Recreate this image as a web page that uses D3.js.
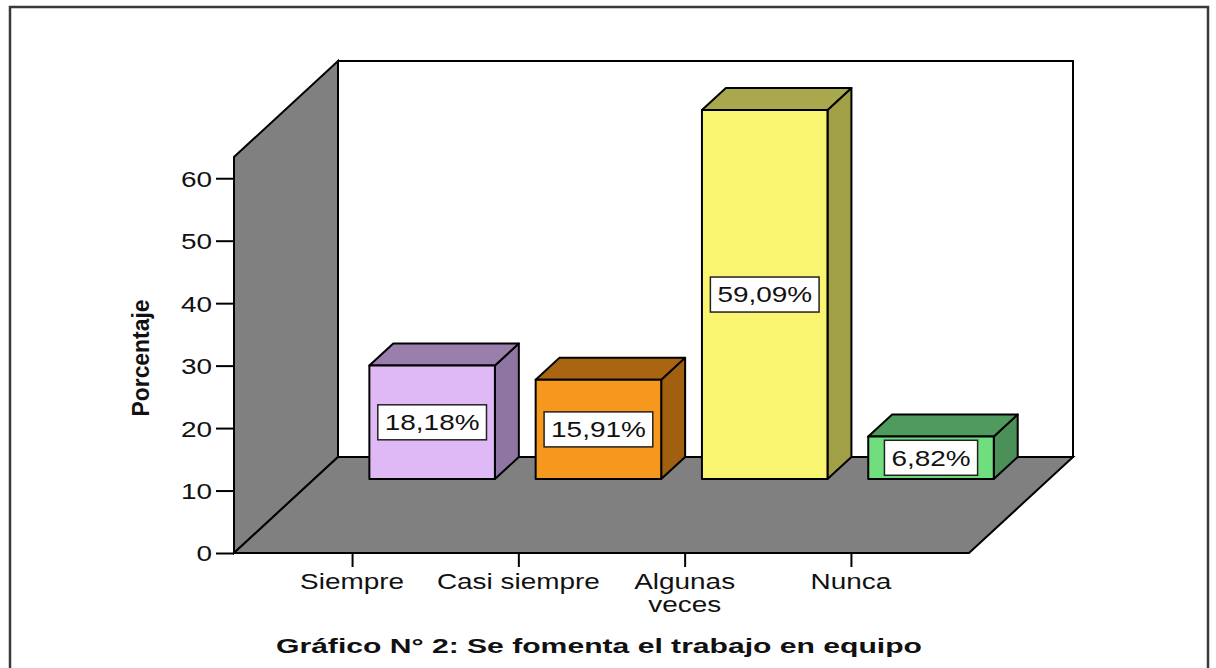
<!DOCTYPE html>
<html>
<head>
<meta charset="utf-8">
<script src="https://cdn.jsdelivr.net/npm/d3@7"></script>
<style>
  body { margin: 0; background: #fff; }
  svg { display: block; }
  text { font-family: "Liberation Sans", Arial, sans-serif; fill: #111; }
</style>
</head>
<body>
<svg id="chart" width="1216" height="668"></svg>
<script>
// data
var categories = ["Siempre", "Casi siempre", "Algunas veces", "Nunca"];
var categoryLines = [["Siempre"], ["Casi siempre"], ["Algunas", "veces"], ["Nunca"]];
var percentages = [18.18, 15.91, 59.09, 6.82];
var yTicks = [0, 10, 20, 30, 40, 50, 60];
var frontColors = ["#dfb9f5", "#f7981e", "#faf570", "#70dd7f"];
var topColors = ["#9a7fad", "#a96512", "#aaa84c", "#4f9a5d"];
var sideColors = ["#8f75a1", "#a15f10", "#a2a046", "#4a9058"];
var titleText = "Gráfico N° 2: Se fomenta el trabajo en equipo";
var yLabel = "Porcentaje";

var svg = d3.select("#chart");
var stretch = 1.27;   // the original's text is drawn wide

// outer frame
svg.append("rect").attr("x", 10).attr("y", 7).attr("width", 1198).attr("height", 720)
  .attr("fill", "none").attr("stroke", "#3a3a3a").attr("stroke-width", 2.5);

// front plane of the 3D box
var x0 = 234, x1 = 969, base = 553;
var depthX = 104, depthY = 96;     // full depth of the floor
var barDepth0 = 0.77, barDepth1 = 1.0;

var x = d3.scalePoint().domain(categories).range([x0, x1]).padding(0.71);
var barW = x.step() * 0.755;
var h = d3.scaleLinear().domain([0, 63.4]).range([0, 396]);
var yAxisScale = d3.scaleLinear().domain([0, 63.4]).range([base, base - 396]);

function proj(px, v, d) {
  return [px + d * depthX, base - h(v) - d * depthY];
}
function poly(pts) {
  return "M" + pts.map(function(p) { return p.join(","); }).join("L") + "Z";
}

var vmax = h.domain()[1];

// back wall
svg.append("path")
  .attr("d", poly([proj(x0, 0, 1), proj(x1, 0, 1), proj(x1, vmax, 1), proj(x0, vmax, 1)]))
  .attr("fill", "#fff").attr("stroke", "#000").attr("stroke-width", 2);

// left wall
svg.append("path")
  .attr("d", poly([proj(x0, 0, 0), proj(x0, 0, 1), proj(x0, vmax, 1), proj(x0, vmax, 0)]))
  .attr("fill", "#808080").attr("stroke", "#000").attr("stroke-width", 2);

// floor
svg.append("path")
  .attr("d", poly([proj(x0, 0, 0), proj(x1, 0, 0), proj(x1, 0, 1), proj(x0, 0, 1)]))
  .attr("fill", "#808080").attr("stroke", "#000").attr("stroke-width", 2);

// y axis
var yAxis = svg.append("g").attr("transform", "translate(" + x0 + ",0)")
  .call(d3.axisLeft(yAxisScale).tickValues(yTicks).tickSize(18).tickPadding(4));
yAxis.select(".domain").remove();
yAxis.selectAll(".tick line").attr("stroke", "#000").attr("stroke-width", 2);
yAxis.selectAll(".tick text")
  .attr("font-family", "Liberation Sans").attr("font-size", 22).attr("fill", "#111")
  .attr("x", -22 / stretch).attr("dy", "0.36em")
  .attr("transform", "scale(" + stretch + ",1)");

// x axis ticks
var xAxis = svg.append("g").attr("transform", "translate(0," + base + ")")
  .call(d3.axisBottom(x).tickSize(14).tickFormat(""));
xAxis.select(".domain").remove();
xAxis.selectAll(".tick line").attr("stroke", "#000").attr("stroke-width", 2);

var catLabels = svg.append("g").selectAll("text").data(categories).enter().append("text")
  .attr("text-anchor", "middle").attr("font-size", 22)
  .attr("transform", function(d) { return "translate(" + x(d) + ",589) scale(" + stretch + ",1)"; });
catLabels.each(function(d, i) {
  var t = d3.select(this);
  categoryLines[i].forEach(function(line, j) {
    t.append("tspan").attr("x", 0).attr("dy", j == 0 ? 0 : 23).text(line);
  });
});

// bars
var fmt = d3.formatLocale({decimal: ",", thousands: ".", grouping: [3], currency: ["", ""]}).format(".2f");

var bars = svg.append("g").selectAll("g").data(percentages).enter().append("g");
bars.each(function(v, i) {
  var g = d3.select(this);
  var left = x(categories[i]) - barW / 2, right = left + barW;
  var front = [proj(left, 0, barDepth0), proj(right, 0, barDepth0), proj(right, v, barDepth0), proj(left, v, barDepth0)];
  var top = [proj(left, v, barDepth0), proj(right, v, barDepth0), proj(right, v, barDepth1), proj(left, v, barDepth1)];
  var side = [proj(right, 0, barDepth0), proj(right, 0, barDepth1), proj(right, v, barDepth1), proj(right, v, barDepth0)];
  g.append("path").attr("d", poly(side)).attr("fill", sideColors[i]).attr("stroke", "#000").attr("stroke-width", 2).attr("stroke-linejoin", "round");
  g.append("path").attr("d", poly(top)).attr("fill", topColors[i]).attr("stroke", "#000").attr("stroke-width", 2).attr("stroke-linejoin", "round");
  g.append("path").attr("d", poly(front)).attr("fill", frontColors[i]).attr("stroke", "#000").attr("stroke-width", 2).attr("stroke-linejoin", "round");

  // value label in a white box
  var cx = (front[0][0] + front[1][0]) / 2;
  var cy = (front[0][1] + front[3][1]) / 2;
  var box = g.append("rect").attr("fill", "#fff").attr("stroke", "#222").attr("stroke-width", 1.5);
  var txt = g.append("text").attr("x", 0).attr("y", 0).attr("dy", "0.36em")
    .attr("transform", "translate(" + cx + "," + cy + ") scale(" + stretch + ",1)")
    .attr("text-anchor", "middle").attr("font-size", 22)
    .attr("fill", "#222").text(fmt(v) + "%");
  var tw = txt.node().getComputedTextLength() * stretch;
  box.attr("x", cx - tw / 2 - 7).attr("y", cy - 17.5).attr("width", tw + 14).attr("height", 35);
});

// y axis title
svg.append("text")
  .attr("transform", "translate(149,358) rotate(-90)")
  .attr("text-anchor", "middle").attr("font-weight", "bold").attr("font-size", 23)
  .attr("textLength", 117).attr("lengthAdjust", "spacingAndGlyphs")
  .text(yLabel);

// chart title
svg.append("text")
  .attr("x", 599).attr("y", 653)
  .attr("text-anchor", "middle").attr("font-weight", "bold").attr("font-size", 21)
  .attr("textLength", 646).attr("lengthAdjust", "spacingAndGlyphs")
  .text(titleText);
</script>
</body>
</html>
